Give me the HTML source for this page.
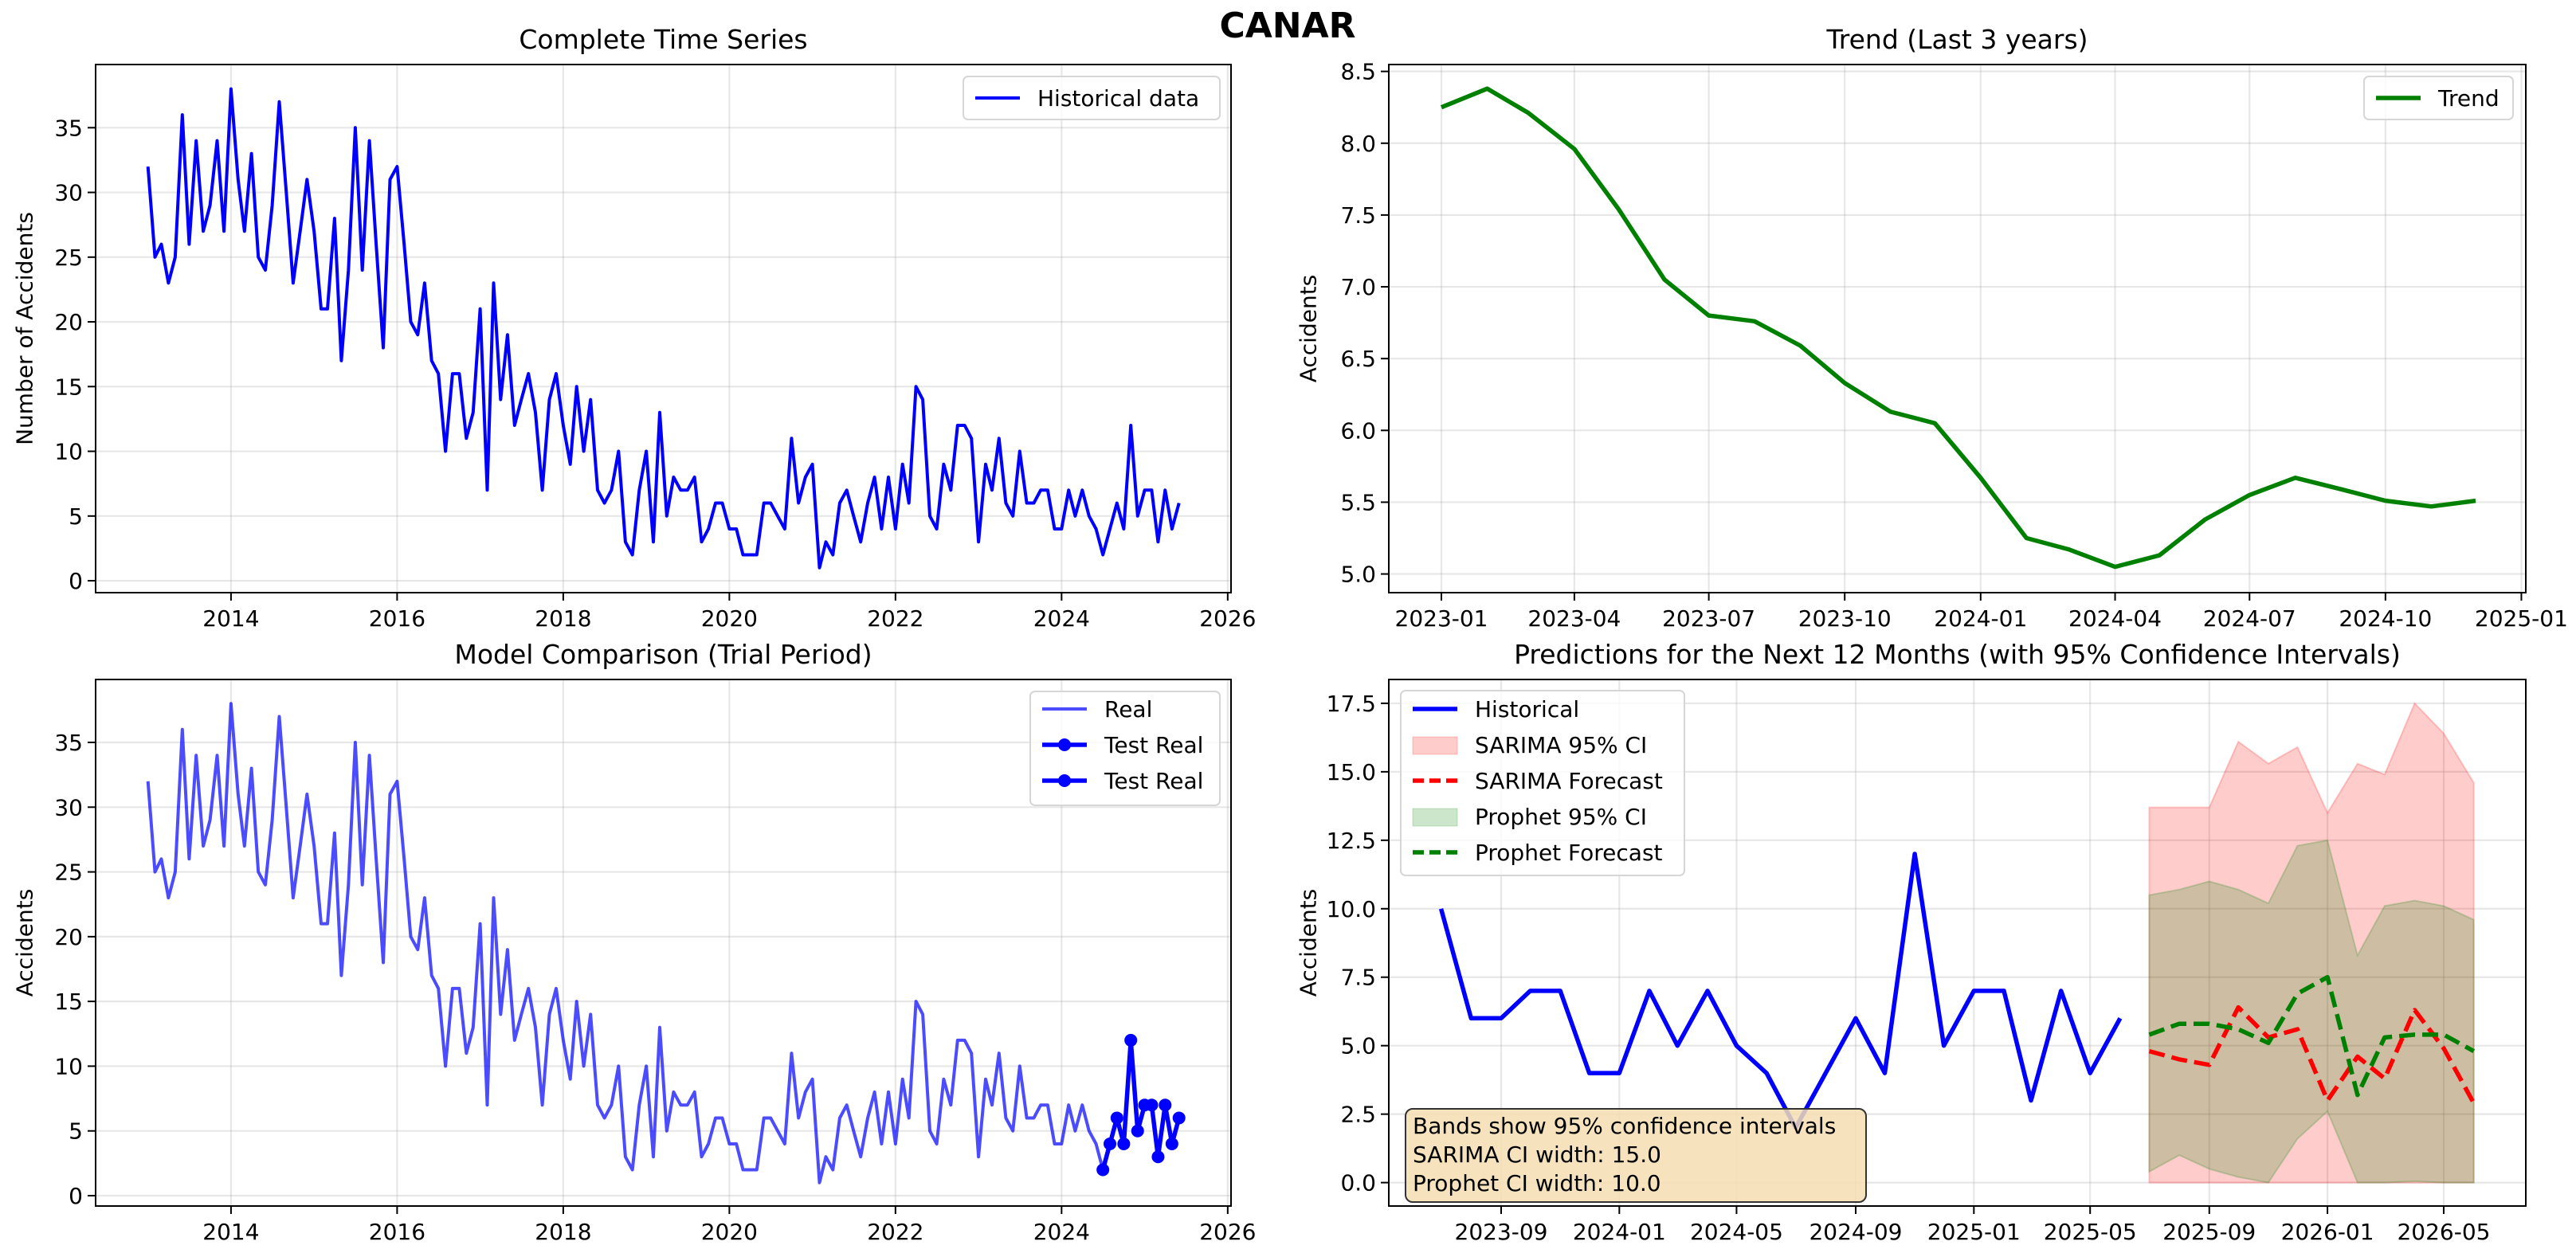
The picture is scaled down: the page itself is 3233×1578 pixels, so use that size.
<!DOCTYPE html>
<html><head><meta charset="utf-8">
<style>
html,body{margin:0;padding:0;background:#fff;}
svg{display:block;font-family:"DejaVu Sans","Liberation Sans",sans-serif;}
</style></head>
<body>
<svg id="fig" width="3233" height="1578" viewBox="0 0 3233 1578" xmlns="http://www.w3.org/2000/svg">
<rect x="0" y="0" width="3233" height="1578" fill="#fff"/>
<text x="1616" y="47" text-anchor="middle" font-size="44" font-weight="bold">CANAR</text>
</svg>
<script>
// ---------- DATA ----------
const histValues = [
32,25,26,23,25,36,26,34,27,29,34,27,
38,31,27,33,25,24,29,37,30,23,27,31,
27,21,21,28,17,24,35,24,34,26,18,31,
32,26,20,19,23,17,16,10,16,16,11,13,
21,7,23,14,19,12,14,16,13,7,14,16,
12,9,15,10,14,7,6,7,10,3,2,7,
10,3,13,5,8,7,7,8,3,4,6,6,
4,4,2,2,2,6,6,5,4,11,6,8,
9,1,3,2,6,7,5,3,6,8,4,8,
4,9,6,15,14,5,4,9,7,12,12,11,
3,9,7,11,6,5,10,6,6,7,7,4,
4,7,5,7,5,4,2,4,6,4,12,5,
7,7,3,7,4,6];
const histStart = [2013,1];
const testStartIndex = 138;
const trendValues = [8.25,8.38,8.21,7.96,7.54,7.05,6.80,6.76,6.59,6.33,6.13,6.05,5.67,5.25,5.17,5.05,5.13,5.38,5.55,5.67,5.59,5.51,5.47,5.51];
const trendStart = [2023,1];
const recentStartIndex = 126;
const fcStart = [2025,7];
const sarimaUpper = [13.7,13.7,13.7,16.1,15.3,15.9,13.5,15.3,14.9,17.5,16.4,14.6];
const sarimaLower = [0,0,0,0,0,0,0,0,0,0,0,0];
const sarimaForecast = [4.8,4.5,4.3,6.4,5.3,5.6,3.0,4.6,3.8,6.3,4.9,2.9];
const prophetUpper = [10.5,10.7,11.0,10.7,10.2,12.3,12.5,8.3,10.1,10.3,10.1,9.6];
const prophetLower = [0.4,1.0,0.5,0.2,0.0,1.6,2.6,0.0,0.0,0.05,0.0,0.0];
const prophetForecast = [5.4,5.8,5.8,5.6,5.1,6.9,7.5,3.2,5.3,5.4,5.4,4.8];
const yearTicks = [2014,2016,2018,2020,2022,2024,2026];
const countTicks = [0,5,10,15,20,25,30,35];
const trendTicks = [5.0,5.5,6.0,6.5,7.0,7.5,8.0,8.5];
const trendXTicks = [[2023,1],[2023,4],[2023,7],[2023,10],[2024,1],[2024,4],[2024,7],[2024,10],[2025,1]];
const predTicks = [0,2.5,5,7.5,10,12.5,15,17.5];
const predXTicks = [[2023,9],[2024,1],[2024,5],[2024,9],[2025,1],[2025,5],[2025,9],[2026,1],[2026,5]];

// ---------- HELPERS ----------
const NS='http://www.w3.org/2000/svg';
const svg=document.getElementById('fig');
function mk(tag,attrs,parent){const e=document.createElementNS(NS,tag);for(const k in attrs)e.setAttribute(k,attrs[k]);(parent||svg).appendChild(e);return e;}
function day(y,m){return Date.UTC(y,m-1,1)/864e5;}
function monthAdd(s,i){const t=s[0]*12+(s[1]-1)+i;return [Math.floor(t/12),t%12+1];}
function fracYear(s,i){const ym=monthAdd(s,i);const d0=day(ym[0],1),d1=day(ym[0]+1,1);return ym[0]+(day(ym[0],ym[1])-d0)/(d1-d0);}
function pad(n){return n<10?'0'+n:''+n;}
function lin(d0,d1,r0,r1){return v=>r0+(v-d0)/(d1-d0)*(r1-r0);}

function panel(name,box,title,ylabel,ylabelX){
  const g=mk('g',{});
  
  
  const t=mk('text',{x:(box.x0+box.x1)/2,y:box.y0-20,'text-anchor':'middle','font-size':33},g);
  t.textContent=title;
  
  
  const yl=mk('text',{x:ylabelX,y:(box.y0+box.y1)/2,'text-anchor':'middle','font-size':28,transform:'rotate(-90 '+ylabelX+' '+(box.y0+box.y1)/2+')','dominant-baseline':'central'},g);
  yl.textContent=ylabel;
  
  
  return g;
}
function gridAndTicks(g,name,box,xs,xt,xl,ys,yt,yl){
  const grid=mk('g',{stroke:'#b0b0b0','stroke-opacity':0.3,'stroke-width':2.2},g);
  
  
  xt.forEach(v=>{const x=xs(v);mk('line',{x1:x,x2:x,y1:box.y0,y2:box.y1},grid);});
  yt.forEach(v=>{const y=ys(v);mk('line',{x1:box.x0,x2:box.x1,y1:y,y2:y},grid);});
  const xa=mk('g',{'font-size':28},g);
  
  
  xt.forEach((v,i)=>{const x=xs(v);mk('line',{x1:x,x2:x,y1:box.y1,y2:box.y1+10,stroke:'#000','stroke-width':2},xa);
    const t=mk('text',{x:x,y:box.y1+42,'text-anchor':'middle'},xa);t.textContent=xl[i];
    
    });
  const ya=mk('g',{'font-size':28},g);
  
  
  yt.forEach((v,i)=>{const y=ys(v);mk('line',{x1:box.x0-10,x2:box.x0,y1:y,y2:y,stroke:'#000','stroke-width':2},ya);
    const t=mk('text',{x:box.x0-16,y:y+10,'text-anchor':'end'},ya);t.textContent=yl[i];
    
    });
}
function frame(g,box){mk('rect',{x:box.x0,y:box.y0,width:box.x1-box.x0,height:box.y1-box.y0,fill:'none',stroke:'#000','stroke-width':2},g);}
function clip(id,box){const c=mk('clipPath',{id:id});mk('rect',{x:box.x0,y:box.y0,width:box.x1-box.x0,height:box.y1-box.y0},c);return 'url(#'+id+')';}
function poly(g,pts,attrs){const p=mk('polyline',Object.assign({points:pts.map(p=>p[0].toFixed(1)+','+p[1].toFixed(1)).join(' '),fill:'none','stroke-linejoin':'round','stroke-linecap':'butt'},attrs),g);return p;}
function legendBox(g,x,y,w,h){const r=mk('rect',{x:x,y:y,width:w,height:h,rx:6,fill:'#fff','fill-opacity':0.8,stroke:'#d6d6d6','stroke-width':2},g);return r;}

// ---------- PANEL 1: Complete Time Series ----------
(function(){
  const box={x0:120,x1:1545,y0:81,y1:744};
  const xs=lin(2012.37,2026.04,box.x0,box.x1);
  const ys=lin(-0.92,39.88,box.y1,box.y0);
  const g=panel('complete-time-series-panel',box,'Complete Time Series','Number of Accidents',31);
  gridAndTicks(g,'complete-time-series',box,xs,yearTicks,yearTicks.map(String),ys,countTicks,countTicks.map(String));
  const pts=histValues.map((v,i)=>[xs(fracYear(histStart,i)),ys(v)]);
  const l=poly(g,pts,{stroke:'#0000ff','stroke-width':4});
  
  
  frame(g,box);
  const lg=mk('g',{'font-size':28},g);
  
  
  legendBox(lg,1209,96,322,54);
  mk('line',{x1:1224,x2:1280,y1:123,y2:123,stroke:'#0000ff','stroke-width':4},lg);
  const t=mk('text',{x:1302,y:133},lg);t.textContent='Historical data';
  
  
})();

// ---------- PANEL 2: Trend ----------
(function(){
  const box={x0:1743,x1:3170,y0:81,y1:744};
  const d0=day(2023,1);
  const xs=lin(d0-35.6,d0+734,box.x0,box.x1);
  const ys=lin(4.870,8.548,box.y1,box.y0);
  const g=panel('trend-panel',box,'Trend (Last 3 years)','Accidents',1642);
  gridAndTicks(g,'trend',box,v=>xs(day(v[0],v[1])),trendXTicks,trendXTicks.map(v=>v[0]+'-'+pad(v[1])),ys,trendTicks,trendTicks.map(v=>v.toFixed(1)));
  const pts=trendValues.map((v,i)=>{const ym=monthAdd(trendStart,i);return [xs(day(ym[0],ym[1])),ys(v)];});
  const l=poly(g,pts,{stroke:'#008000','stroke-width':5.5});
  
  
  frame(g,box);
  const lg=mk('g',{'font-size':28},g);
  
  
  legendBox(lg,2967,96,187,54);
  mk('line',{x1:2982,x2:3038,y1:123,y2:123,stroke:'#008000','stroke-width':5.5},lg);
  const t=mk('text',{x:3060,y:133},lg);t.textContent='Trend';
  
  
})();

// ---------- PANEL 3: Model Comparison ----------
(function(){
  const box={x0:120,x1:1545,y0:853,y1:1514};
  const xs=lin(2012.37,2026.04,box.x0,box.x1);
  const ys=lin(-0.8,39.86,box.y1,box.y0);
  const g=panel('model-comparison-panel',box,'Model Comparison (Trial Period)','Accidents',31);
  gridAndTicks(g,'model-comparison',box,xs,yearTicks,yearTicks.map(String),ys,countTicks,countTicks.map(String));
  const pts=histValues.map((v,i)=>[xs(fracYear(histStart,i)),ys(v)]);
  const l=poly(g,pts,{stroke:'#0000ff','stroke-opacity':0.7,'stroke-width':4});
  
  
  const tp=pts.slice(testStartIndex);
  const tl=poly(g,tp,{stroke:'#0000ff','stroke-width':5.5});
  
  
  tp.forEach(p=>{const c=mk('circle',{cx:p[0],cy:p[1],r:8,fill:'#0000ff'},g);
    
    });
  frame(g,box);
  const lg=mk('g',{'font-size':28},g);
  
  
  legendBox(lg,1293,868,238,143);
  const labels=['Real','Test Real','Test Real'];
  labels.forEach((s,i)=>{const y=890+i*45;
    mk('line',{x1:1308,x2:1364,y1:y,y2:y,stroke:'#0000ff','stroke-opacity':i?1:0.7,'stroke-width':i?5.5:4},lg);
    if(i)mk('circle',{cx:1336,cy:y,r:8,fill:'#0000ff'},lg);
    const t=mk('text',{x:1386,y:y+10},lg);t.textContent=s;
    
    });
})();

// ---------- PANEL 4: Predictions ----------
(function(){
  const box={x0:1743,x1:3170,y0:853,y1:1514};
  const dA=day(2023,9);
  const xs=v=>1884+(v-dA)*1.2158;
  const ys=lin(-0.855,18.37,box.y1,box.y0);
  const g=panel('predictions-panel',box,'Predictions for the Next 12 Months (with 95% Confidence Intervals)','Accidents',1642);
  gridAndTicks(g,'predictions',box,v=>xs(day(v[0],v[1])),predXTicks,predXTicks.map(v=>v[0]+'-'+pad(v[1])),ys,predTicks,predTicks.map(v=>v.toFixed(1)));
  const fx=i=>{const ym=monthAdd(fcStart,i);return xs(day(ym[0],ym[1]));};
  function band(up,lo,color,name){
    const pts=up.map((v,i)=>[fx(i),ys(v)]).concat(lo.map((v,i)=>[fx(i),ys(v)]).reverse());
    const p=mk('polygon',{points:pts.map(p=>p[0].toFixed(1)+','+p[1].toFixed(1)).join(' '),fill:color,'fill-opacity':0.2,stroke:color,'stroke-opacity':0.2,'stroke-width':2},g);
    
    
  }
  band(sarimaUpper,sarimaLower,'#ff0000','sarima-ci-band');
  band(prophetUpper,prophetLower,'#008000','prophet-ci-band');
  const recent=histValues.slice(recentStartIndex);
  const rs=monthAdd(histStart,recentStartIndex);
  const hp=recent.map((v,i)=>{const ym=monthAdd(rs,i);return [xs(day(ym[0],ym[1])),ys(v)];});
  const hl=poly(g,hp,{stroke:'#0000ff','stroke-width':5.5});
  
  
  const sl=poly(g,sarimaForecast.map((v,i)=>[fx(i),ys(v)]),{stroke:'#ff0000','stroke-width':5.5,'stroke-dasharray':'20,9'});
  
  
  const pl=poly(g,prophetForecast.map((v,i)=>[fx(i),ys(v)]),{stroke:'#008000','stroke-width':5.5,'stroke-dasharray':'20,9'});
  
  
  frame(g,box);
  // legend
  const lg=mk('g',{'font-size':28},g);
  
  
  legendBox(lg,1758,867,356,232);
  const items=[['Historical','line','#0000ff',''],['SARIMA 95% CI','patch','#ff0000'],['SARIMA Forecast','line','#ff0000','14,7'],['Prophet 95% CI','patch','#008000'],['Prophet Forecast','line','#008000','14,7']];
  items.forEach((it,i)=>{const y=890+i*45;
    if(it[1]==='line'){const a={x1:1773,x2:1829,y1:y,y2:y,stroke:it[2],'stroke-width':5.5};if(it[3])a['stroke-dasharray']=it[3];mk('line',a,lg);}
    else mk('rect',{x:1773,y:y-10,width:56,height:22,fill:it[2],'fill-opacity':0.2,stroke:it[2],'stroke-opacity':0.2},lg);
    const t=mk('text',{x:1851,y:y+10},lg);t.textContent=it[0];
    
    });
  // info text box
  const tb=mk('g',{'font-size':28},g);
  
  
  mk('rect',{x:1764,y:1392,width:578,height:117,rx:9,fill:'#f5deb3','fill-opacity':0.85,stroke:'#333','stroke-width':2},tb);
  ['Bands show 95% confidence intervals','SARIMA CI width: 15.0','Prophet CI width: 10.0'].forEach((s,i)=>{
    const t=mk('text',{x:1773,y:1423+i*36},tb);t.textContent=s;
    
    });
})();
</script>
</body></html>
